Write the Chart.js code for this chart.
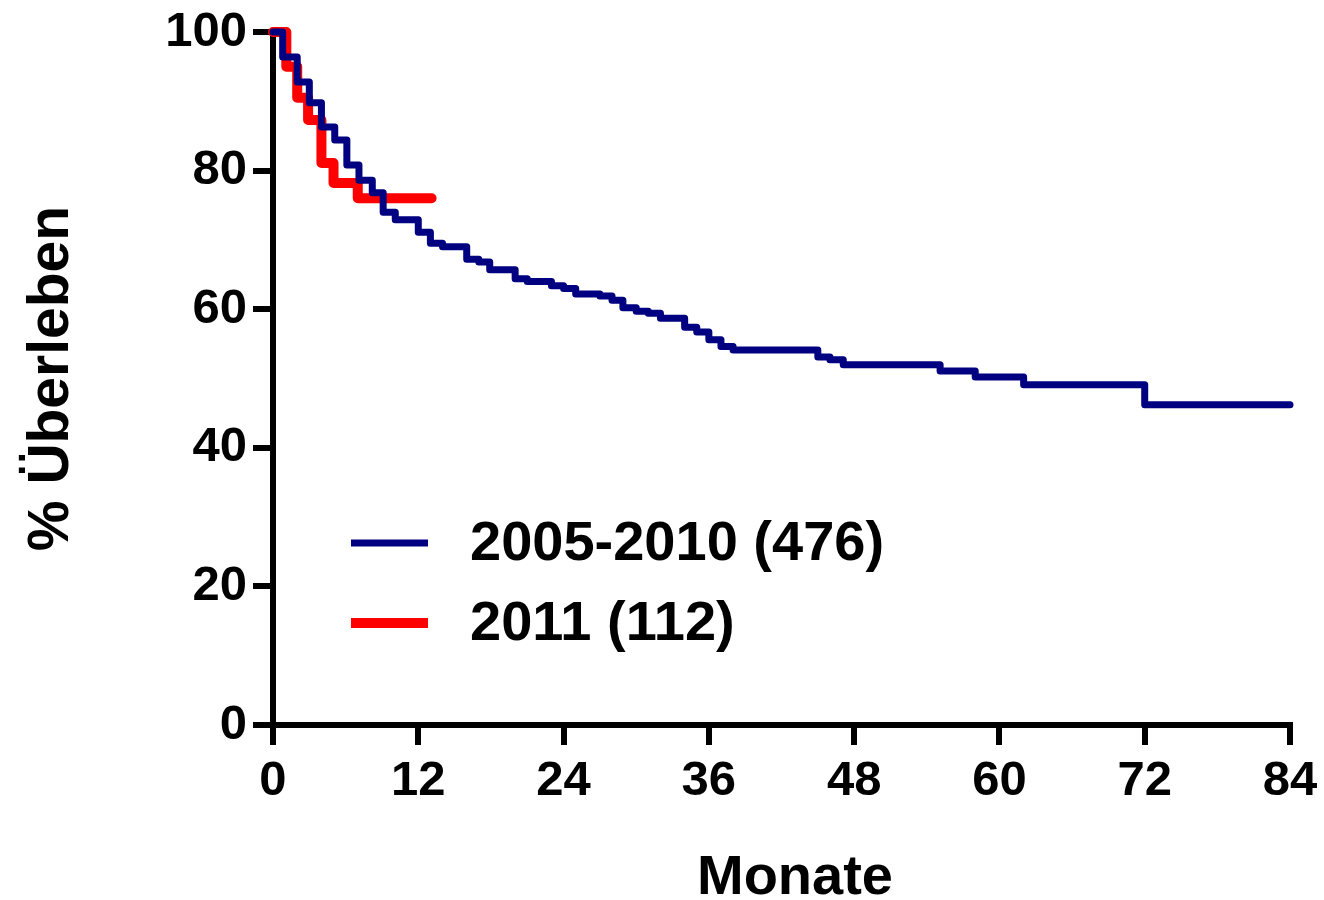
<!doctype html>
<html lang="de">
<head>
    <meta charset="utf-8">
    <title>Überleben</title>
    <script src="https://cdn.jsdelivr.net/npm/chart.js@4.4.1/dist/chart.umd.min.js"></script>
    <style>
        html, body { margin: 0; padding: 0; background: #fff; }
        #wrap { width: 1324px; height: 900px; }
    </style>
</head>
<body>
<div id="wrap">
    <canvas id="survivalCanvas" width="1324" height="900"></canvas>
</div>

<script>
    // Kaplan-Meier Stufen: Zeitpunkt (Monate) und % Überleben nach dem Ereignis
    let oldLabel = "2005-2010 (476)";
    let oldMonths = [0, 0.8, 2.0, 3.0, 4.0, 5.1, 6.1, 7.1, 8.2, 9.1, 10.1, 12.0, 13.0, 14.0, 16.0, 17.0, 17.9,
        20.0, 21.0, 23.0, 24.0, 25.0, 27.0, 28.0, 28.9, 30.0, 31.0, 32.0, 34.0, 35.0, 36.0, 37.0, 38.0,
        45.0, 46.0, 47.1, 55.1, 58.0, 62.0, 72.0, 84.0];
    let oldSurvival = [100, 96.4, 92.8, 89.8, 86.3, 84.4, 80.8, 78.6, 76.8, 74.0, 72.9, 71.1, 69.5, 69.0, 67.2, 66.8, 65.7,
        64.4, 64.0, 63.4, 63.0, 62.2, 61.9, 61.3, 60.2, 59.7, 59.4, 58.7, 57.4, 56.7, 55.6, 54.6, 54.1,
        53.1, 52.7, 52.0, 51.1, 50.2, 49.1, 46.2, 46.2];

    let newLabel = "2011 (112)";
    let newMonths = [0, 1.1, 2.0, 2.9, 4.0, 5.0, 7.0, 13.1];
    let newSurvival = [100, 95.0, 90.5, 87.3, 81.1, 78.2, 76.0, 76.0];

    let xTicks = [0, 12, 24, 36, 48, 60, 72, 84];
    let yTicks = [0, 20, 40, 60, 80, 100];
    let xTitle = "Monate";
    let yTitle = "% Überleben";

    const FONT = "'Liberation Sans', Arial, Helvetica, sans-serif";

    function toPoints(xs, ys) {
        return xs.map(function (x, i) {
            return {x: x, y: ys[i]};
        });
    }

    // Legende innerhalb der Zeichenfläche + Titel der x-Achse
    const insideLegend = {
        id: 'insideLegend',
        afterDraw(chart) {
            const ctx = chart.ctx;
            const area = chart.chartArea;
            const rows = [543, 623];
            ctx.save();
            chart.data.datasets.forEach(function (ds, i) {
                let y = rows[i];
                ctx.strokeStyle = ds.borderColor;
                ctx.lineWidth = ds.borderWidth;
                ctx.lineCap = 'butt';
                ctx.beginPath();
                ctx.moveTo(area.left + 78, y);
                ctx.lineTo(area.left + 155, y);
                ctx.stroke();
                ctx.fillStyle = '#000';
                ctx.font = 'bold 56px ' + FONT;
                ctx.textBaseline = 'middle';
                ctx.textAlign = 'left';
                ctx.fillText(ds.label, area.left + 197, y + 2);
            });
            ctx.font = 'bold 56px ' + FONT;
            ctx.textAlign = 'center';
            ctx.textBaseline = 'alphabetic';
            ctx.fillText(xTitle, area.left + 522, 894);
            ctx.restore();
        }
    };

    new Chart(document.getElementById('survivalCanvas'), {
        type: 'line',
        data: {
            datasets: [{
                label: oldLabel,
                data: toPoints(oldMonths, oldSurvival),
                borderColor: '#000080',
                borderWidth: 7,
                stepped: 'before',
                pointRadius: 0,
                fill: false,
                clip: false,
                borderCapStyle: 'round',
                borderJoinStyle: 'round'
            }, {
                label: newLabel,
                data: toPoints(newMonths, newSurvival),
                borderColor: '#ff0000',
                borderWidth: 10,
                stepped: 'before',
                pointRadius: 0,
                fill: false,
                clip: false,
                borderCapStyle: 'round',
                borderJoinStyle: 'round'
            }]
        },
        options: {
            responsive: false,
            animation: false,
            layout: {padding: {top: 32, right: 34, bottom: 0, left: 0}},
            plugins: {
                legend: {display: false},
                tooltip: {enabled: false}
            },
            scales: {
                x: {
                    type: 'linear',
                    min: 0,
                    max: 84,
                    afterBuildTicks: function (scale) {
                        scale.ticks = xTicks.map(function (v) { return {value: v}; });
                    },
                    afterFit: function (scale) { scale.height = 175; },
                    border: {color: '#000', width: 6},
                    grid: {drawOnChartArea: false, color: '#000', lineWidth: 6, tickLength: 20},
                    ticks: {color: '#000', padding: 5, maxRotation: 0, font: {family: FONT, size: 49, weight: 'bold', lineHeight: 1.3}},
                    title: {display: false}
                },
                y: {
                    type: 'linear',
                    min: 0,
                    max: 100,
                    afterBuildTicks: function (scale) {
                        scale.ticks = yTicks.map(function (v) { return {value: v}; });
                    },
                    afterFit: function (scale) { scale.width = 273; },
                    border: {color: '#000', width: 6},
                    grid: {drawOnChartArea: false, color: '#000', lineWidth: 6, tickLength: 20},
                    ticks: {color: '#000', padding: 6, font: {family: FONT, size: 49, weight: 'bold', lineHeight: 1.0}},
                    title: {
                        display: true,
                        text: yTitle,
                        color: '#000',
                        padding: {top: 18, bottom: 0},
                        font: {family: FONT, size: 57, weight: 'bold', lineHeight: 1.2}
                    }
                }
            }
        },
        plugins: [insideLegend]
    });
</script>
</body>
</html>
